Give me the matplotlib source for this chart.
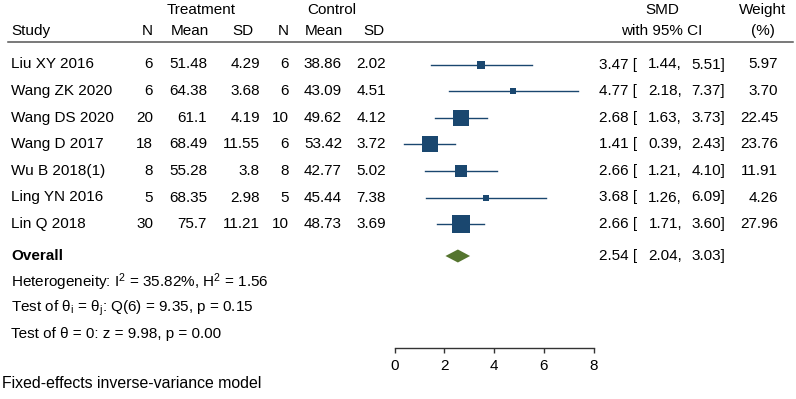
import matplotlib
matplotlib.use("Agg")
import matplotlib.pyplot as plt

plt.rcParams['font.family'] = ['Liberation Sans', 'DejaVu Sans']
plt.rcParams['mathtext.fontset'] = 'custom'
plt.rcParams['mathtext.rm'] = 'Liberation Sans'
plt.rcParams['mathtext.it'] = 'Liberation Sans'

# study data
studies = ["Liu XY 2016", "Wang ZK 2020", "Wang DS 2020", "Wang D 2017",
           "Wu B 2018(1)", "Ling YN 2016", "Lin Q 2018"]
n_t = ["6", "6", "20", "18", "8", "5", "30"]
mean_t = ["51.48", "64.38", "61.1", "68.49", "55.28", "68.35", "75.7"]
sd_t = ["4.29", "3.68", "4.19", "11.55", "3.8", "2.98", "11.21"]
n_c = ["6", "6", "10", "6", "8", "5", "10"]
mean_c = ["38.86", "43.09", "49.62", "53.42", "42.77", "45.44", "48.73"]
sd_c = ["2.02", "4.51", "4.12", "3.72", "5.02", "7.38", "3.69"]
smd = [3.47, 4.77, 2.68, 1.41, 2.66, 3.68, 2.66]
ci_lo = [1.44, 2.18, 1.63, 0.39, 1.21, 1.26, 1.71]
ci_hi = [5.51, 7.37, 3.73, 2.43, 4.10, 6.09, 3.60]
weight = [5.97, 3.70, 22.45, 23.76, 11.91, 4.26, 27.96]

overall_smd = 2.54
overall_lo = 2.04
overall_hi = 3.03

stats_lines = [
    r"Heterogeneity: I$^{2}$ = 35.82%, H$^{2}$ = 1.56",
    r"Test of θ$_{\mathrm{i}}$ = θ$_{\mathrm{j}}$: Q(6) = 9.35, p = 0.15",
    "Test of θ = 0: z = 9.98, p = 0.00",
]
model_note = "Fixed-effects inverse-variance model"
x_ticks = [0, 2, 4, 6, 8]

navy = "#1a476f"
green = "#55752f"
fs = 11

W, H = 796, 399
fig = plt.figure(figsize=(W / 100, H / 100), dpi=100)

# text layer in pixel coordinates
ax = fig.add_axes([0, 0, 1, 1])
ax.set_xlim(0, W)
ax.set_ylim(H, 0)
ax.axis("off")

# forest plot axes
axis_y = 347.7
x0_px, x8_px = 394.7, 593.7
fa = fig.add_axes([x0_px / W, (H - axis_y) / H, (x8_px - x0_px) / W, axis_y / H])
fa.set_xlim(0, 8)
fa.set_ylim(axis_y, 0)
fa.patch.set_visible(False)
for s in ["top", "left", "right"]:
    fa.spines[s].set_visible(False)
fa.spines["bottom"].set_color("#333333")
fa.spines["bottom"].set_linewidth(1.0)
fa.set_yticks([])
fa.set_xticks(x_ticks)
fa.tick_params(axis="x", direction="out", length=3.6, width=1.0, color="#333333",
               labelsize=fs, pad=4.5)

row0, step = 64.5, 26.6
rows = [row0 + i * step for i in range(len(studies))]
y_overall = 256
y_stats = [282, 308, 334]

# header
ax.text(201, 10, "Treatment", ha="center", va="center", fontsize=fs)
ax.text(332, 10, "Control", ha="center", va="center", fontsize=fs)
ax.text(11, 31, "Study", ha="left", va="center", fontsize=fs)
for x, lab in [(153, "N"), (209, "Mean"), (253, "SD"), (289, "N"), (343, "Mean"), (384, "SD")]:
    ax.text(x, 31, lab, ha="right", va="center", fontsize=fs)
ax.text(662, 10, "SMD", ha="center", va="center", fontsize=fs)
ax.text(662, 31, "with 95% CI", ha="center", va="center", fontsize=fs)
ax.text(763, 10, "Weight", ha="center", va="center", fontsize=fs)
ax.text(763, 31, "(%)", ha="center", va="center", fontsize=fs)
ax.plot([8, 793], [41.7, 41.7], color="#555555", lw=1.1)

# study rows
for i, y in enumerate(rows):
    ax.text(11, y, studies[i], ha="left", va="center", fontsize=fs)
    for x, col in [(153, n_t), (207, mean_t), (260, sd_t), (289, n_c), (342, mean_c), (386, sd_c)]:
        ax.text(x, y, col[i], ha="right", va="center", fontsize=fs)
    ax.text(637, y, f"{smd[i]:.2f} [", ha="right", va="center", fontsize=fs)
    ax.text(682, y, f"{ci_lo[i]:.2f},", ha="right", va="center", fontsize=fs)
    ax.text(725, y, f"{ci_hi[i]:.2f}]", ha="right", va="center", fontsize=fs)
    ax.text(778, y, f"{weight[i]:.2f}", ha="right", va="center", fontsize=fs)

    fa.plot([ci_lo[i], ci_hi[i]], [y, y], color=navy, lw=1.0, clip_on=False)
    side_pt = 3.35 * weight[i] ** 0.5 * 0.72
    fa.scatter([smd[i]], [y], marker="s", s=side_pt ** 2, color=navy,
               linewidths=0, zorder=3, clip_on=False)

# overall
ax.text(11, y_overall, "Overall", ha="left", va="center", fontsize=fs, fontweight="bold")
ax.text(637, y_overall, f"{overall_smd:.2f} [", ha="right", va="center", fontsize=fs)
ax.text(682, y_overall, f"{overall_lo:.2f},", ha="right", va="center", fontsize=fs)
ax.text(725, y_overall, f"{overall_hi:.2f}]", ha="right", va="center", fontsize=fs)
half_h = 6.5
fa.fill([overall_lo, overall_smd, overall_hi, overall_smd],
        [y_overall, y_overall - half_h, y_overall, y_overall + half_h],
        color=green, lw=0, clip_on=False)

for y, t in zip(y_stats, stats_lines):
    ax.text(11, y, t, ha="left", va="center", fontsize=fs)
ax.text(2, 384, model_note, ha="left", va="center", fontsize=11.4)

fig.savefig("out.png", dpi=100)
